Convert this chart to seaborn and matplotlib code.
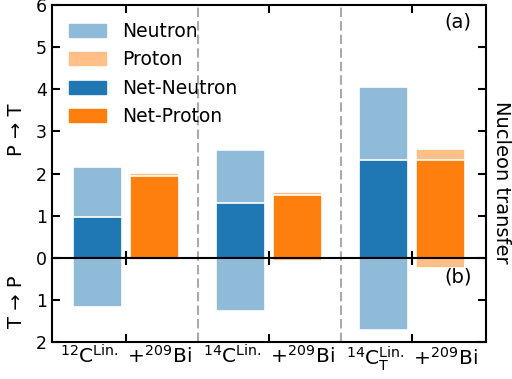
import matplotlib
matplotlib.use("Agg")
import matplotlib.pyplot as plt
import matplotlib.patches as mpatches
import seaborn as sns
import pandas as pd

systems = [r"$^{12}$C$^{\rm Lin.}$ +$^{209}$Bi",
           r"$^{14}$C$^{\rm Lin.}$ +$^{209}$Bi",
           r"$^{14}$C$_{\rm T}^{\rm Lin.}$ +$^{209}$Bi"]
neutron_pt = [2.16, 2.56, 4.06]
neutron_tp = [1.18, 1.26, 1.72]
proton_pt = [2.01, 1.57, 2.58]
proton_tp = [0.06, 0.07, 0.24]
net_neutron = [0.97, 1.31, 2.33]
net_proton = [1.94, 1.49, 2.33]
ytick_vals = [-2, -1, 0, 1, 2, 3, 4, 5, 6]
ytick_labels = ["2", "1", "0", "1", "2", "3", "4", "5", "6"]

sns.set_style("ticks")
plt.rcParams.update({
    "xtick.direction": "in", "ytick.direction": "in",
    "xtick.top": True, "ytick.right": True,
    "xtick.major.size": 6, "ytick.major.size": 6,
    "xtick.major.width": 1.5, "ytick.major.width": 1.5,
    "axes.linewidth": 1.5, "font.size": 14,
    "text.color": "black", "axes.labelcolor": "black",
    "xtick.color": "black", "ytick.color": "black", "axes.edgecolor": "black",
})
plt.rcParams["font.family"] = ["DejaVu Sans"]

light = {"Neutron": "#8fbbd9", "Proton": "#ffbf86"}
dark = {"Net-Neutron": "#1f77b4", "Net-Proton": "#ff7f0e"}

df_pt = pd.DataFrame({"sys": systems * 2, "kind": ["Neutron"] * 3 + ["Proton"] * 3,
                      "v": neutron_pt + proton_pt})
df_tp = pd.DataFrame({"sys": systems * 2, "kind": ["Neutron"] * 3 + ["Proton"] * 3,
                      "v": [-v for v in neutron_tp + proton_tp]})
df_net = pd.DataFrame({"sys": systems * 2, "kind": ["Net-Neutron"] * 3 + ["Net-Proton"] * 3,
                       "v": net_neutron + net_proton})

fig = plt.figure(figsize=(5.12, 3.79), dpi=100)
ax = fig.add_axes([0.1016, 0.0976, 0.8477, 0.8892])

common = dict(x="sys", y="v", hue="kind", order=systems, gap=0.15, width=0.8,
              edgecolor="white", linewidth=1.2, legend=False, ax=ax, errorbar=None,
              saturation=1)
sns.barplot(data=df_pt, palette=light, hue_order=["Neutron", "Proton"], **common)
sns.barplot(data=df_tp, palette=light, hue_order=["Neutron", "Proton"], **common)
sns.barplot(data=df_net, palette=dark, hue_order=["Net-Neutron", "Net-Proton"], **common)

for xv in (0.5, 1.5):
    ax.axvline(xv, color="#aaaaaa", ls=(0, (4.5, 2)), lw=1.5, zorder=0)

ax.set_xlim(-0.517, 2.517)
ax.set_ylim(-2, 6)
ax.set_yticks(ytick_vals)
ax.set_yticklabels(ytick_labels, fontsize=12.5)
ax.set_xticks(range(3))
ax.set_xticklabels(systems, fontsize=14.5)
ax.tick_params(axis="x", pad=2)
ax.set_xlabel("")
ax.set_ylabel("")

# zero line as a middle axis with ticks crossing it
mid = ax.secondary_xaxis(0.25)
mid.set_xticks(range(3))
mid.set_xticklabels([])
mid.tick_params(direction="inout", length=10, width=1.5, color="black")
mid.spines["bottom"].set_linewidth(1.5)
mid.spines["bottom"].set_color("black")
mid.set_zorder(5)

fig.text(0.033, 0.657, "P → T", rotation=90, ha="center", va="center", fontsize=14)
fig.text(0.033, 0.205, "T → P", rotation=90, ha="center", va="center", fontsize=14)
ax.text(1.014, 0.475, "Nucleon transfer", rotation=270, transform=ax.transAxes,
        ha="left", va="center", fontsize=14)
ax.text(0.967, 0.95, "(a)", transform=ax.transAxes, ha="right", va="center", fontsize=14)
ax.text(0.967, 0.193, "(b)", transform=ax.transAxes, ha="right", va="center", fontsize=14)

handles = [mpatches.Patch(color=c, label=l) for l, c in
           list(light.items()) + list(dark.items())]
ax.legend(handles=handles, loc="upper left", frameon=False, fontsize=13.5,
          handlelength=2.0, labelspacing=0.5, handletextpad=0.85,
          bbox_to_anchor=(0.0, 1.0))

fig.savefig("out.png", dpi=100)
